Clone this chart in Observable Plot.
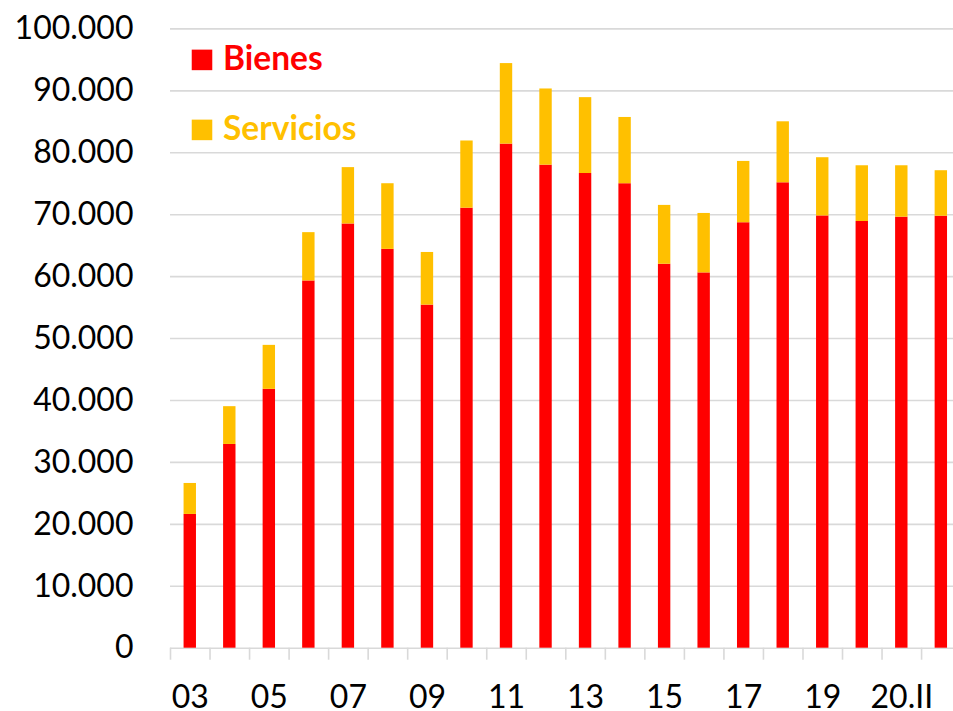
<!DOCTYPE html>
<html>
<head>
<meta charset="utf-8">
<script src="https://cdn.jsdelivr.net/npm/d3@7"></script>
<script src="https://cdn.jsdelivr.net/npm/@observablehq/plot@0.6"></script>
<style>
  html, body { margin: 0; padding: 0; background: #fff; }
  #chart { width: 953px; height: 711px; overflow: hidden; }
</style>
</head>
<body>
<div id="chart"></div>
<script>
const categories = ["03","04","05","06","07","08","09","10","11","12","13","14","15","16","17","18","19","20.I","20.II","20.III"];
const bienes     = [21600, 32900, 41800, 59300, 68500, 64400, 55400, 71050, 81400, 78000, 76650, 75000, 62000, 60600, 68700, 75150, 69800, 68900, 69600, 69750];
const servicios  = [5000, 6100, 7100, 7800, 9100, 10600, 8500, 10850, 13000, 12300, 12250, 10700, 9500, 9600, 9900, 9850, 9400, 9000, 8300, 7350];
const xLabels = ["03","05","07","09","11","13","15","17","19","20.II"];
const yTicks = [0, 10000, 20000, 30000, 40000, 50000, 60000, 70000, 80000, 90000, 100000];
const seriesNames = ["Bienes", "Servicios"];
const seriesColors = ["#ff0000", "#ffc000"];

const rows = categories.flatMap((c, i) => [
  {cat: c, serie: seriesNames[0], value: bienes[i]},
  {cat: c, serie: seriesNames[1], value: servicios[i]}
]);

const fmt = d3.formatLocale({decimal: ",", thousands: ".", grouping: [3], currency: ["", "€"]}).format(",");
const xRange = [170, 960.6];
const bw = (xRange[1] - xRange[0]) / categories.length;
const barW = 12.4;
const inset = (bw - barW) / 2;

const legendMarks = seriesNames.flatMap((name, i) => [
  Plot.dot([name], {x: null, y: null, frameAnchor: "top-left", dx: 31.5, dy: 31 + i * 70,
    symbol: "square", r: 11.6, fill: seriesColors[i], stroke: null}),
  Plot.text([name], {x: null, y: null, frameAnchor: "top-left", dx: 52.5, dy: 30.5 + i * 69.5,
    text: d => d, textAnchor: "start", lineAnchor: "middle", fontSize: 33.5, fontWeight: "bold",
    fill: seriesColors[i]})
]);

const chart = Plot.plot({
  width: 953,
  height: 711,
  marginLeft: 170,
  marginRight: 0,
  marginTop: 28.4,
  marginBottom: 63.3,
  style: {fontFamily: "Lato, 'Open Sans', sans-serif", color: "#000", background: "#fff", overflow: "visible"},
  x: {type: "band", domain: categories, range: xRange, padding: 0, round: false, axis: null},
  y: {domain: [0, 100000], axis: null},
  color: {domain: seriesNames, range: seriesColors},
  marks: [
    Plot.ruleY(yTicks, {stroke: "#d9d9d9", strokeWidth: 1.6}),
    Plot.barY(rows, {x: "cat", y: "value", fill: "serie", insetLeft: inset, insetRight: inset}),
    Plot.axisX({ticks: categories, tickSize: 12, tickFormat: () => "", dx: -bw / 2,
      stroke: "#d9d9d9", strokeWidth: 1.6, strokeOpacity: 1, label: null}),
    Plot.axisX({ticks: xLabels, tickSize: 0, tickPadding: 37, fontSize: 32, fill: "#000", label: null}),
    Plot.axisY({ticks: yTicks, tickSize: 0, tickPadding: 37, tickFormat: fmt, fontSize: 32, fill: "#000", label: null}),
    ...legendMarks
  ]
});
document.getElementById("chart").appendChild(chart);
</script>
</body>
</html>
